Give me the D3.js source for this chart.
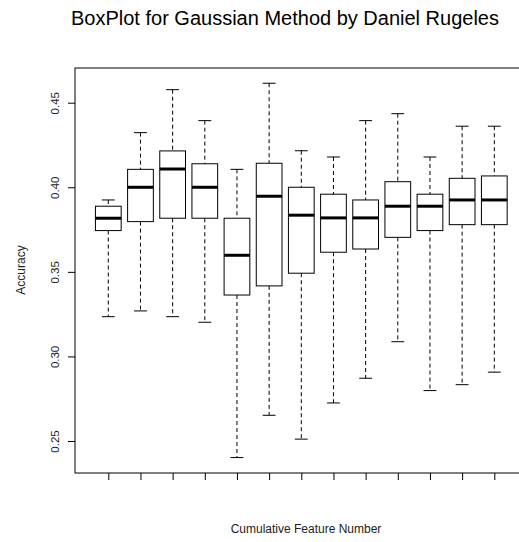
<!DOCTYPE html>
<html>
<head>
<meta charset="utf-8">
<script src="https://cdn.jsdelivr.net/npm/d3@7"></script>
<style>
  body { margin: 0; background: #fff; }
  text { font-family: "Liberation Sans", Arial, sans-serif; }
</style>
</head>
<body>
<svg id="chart"></svg>
<script>
// one entry per cumulative feature number (1..13)
const features = [1, 2, 3, 4, 5, 6, 7, 8, 9, 10, 11, 12, 13];
const whiskerLow  = [0.3235, 0.3269, 0.3235, 0.3202, 0.2402, 0.2652, 0.2511, 0.2725, 0.2871, 0.3087, 0.2798, 0.2833, 0.2907];
const q1          = [0.3744, 0.3797, 0.3817, 0.3817, 0.3363, 0.3417, 0.3492, 0.3616, 0.3635, 0.3704, 0.3744, 0.3779, 0.3779];
const medians     = [0.3817, 0.4000, 0.4108, 0.4000, 0.3598, 0.3947, 0.3835, 0.3819, 0.3819, 0.3888, 0.3888, 0.3925, 0.3925];
const q3          = [0.3888, 0.4106, 0.4215, 0.4139, 0.3817, 0.4142, 0.4000, 0.3959, 0.3925, 0.4033, 0.3959, 0.4053, 0.4067];
const whiskerHigh = [0.3925, 0.4323, 0.4577, 0.4394, 0.4106, 0.4615, 0.4216, 0.4179, 0.4394, 0.4435, 0.4179, 0.4361, 0.4361];
const yTicks = [0.25, 0.30, 0.35, 0.40, 0.45];

const width = 519, height = 542;
const plotLeft = 75, plotTop = 68, plotBottom = 473, plotRight = 530;

const svg = d3.select("#chart")
    .attr("width", width)
    .attr("height", height);

const x = d3.scaleLinear()
    .domain([1, 13])
    .range([108.3, 494.3]);

const y = d3.scaleLinear()
    .domain([0.25, 0.45])
    .range([441, 102.7]);

const boxWidth = (x(2) - x(1)) * 0.8;
const capWidth = boxWidth * 0.5;

const data = features.map((f, i) => ({
    f: f,
    lo: whiskerLow[i],
    q1: q1[i],
    med: medians[i],
    q3: q3[i],
    hi: whiskerHigh[i]
}));

// title
svg.append("text")
    .attr("x", 285)
    .attr("y", 25)
    .attr("text-anchor", "middle")
    .style("font-size", "20px")
    .style("fill", "#000")
    .text("BoxPlot for Gaussian Method by Daniel Rugeles");

const boxes = svg.selectAll(".box")
    .data(data)
    .enter().append("g")
    .attr("class", "box")
    .attr("transform", d => `translate(${x(d.f)},0)`);

// whiskers (dashed)
boxes.append("line")
    .attr("x1", 0).attr("x2", 0)
    .attr("y1", d => y(d.hi)).attr("y2", d => y(d.q3))
    .attr("stroke", "#000")
    .attr("stroke-dasharray", "4,3");

boxes.append("line")
    .attr("x1", 0).attr("x2", 0)
    .attr("y1", d => y(d.q1)).attr("y2", d => y(d.lo))
    .attr("stroke", "#000")
    .attr("stroke-dasharray", "4,3");

// staples
boxes.append("line")
    .attr("x1", -capWidth / 2).attr("x2", capWidth / 2)
    .attr("y1", d => y(d.hi)).attr("y2", d => y(d.hi))
    .attr("stroke", "#000");

boxes.append("line")
    .attr("x1", -capWidth / 2).attr("x2", capWidth / 2)
    .attr("y1", d => y(d.lo)).attr("y2", d => y(d.lo))
    .attr("stroke", "#000");

// box
boxes.append("rect")
    .attr("x", -boxWidth / 2)
    .attr("width", boxWidth)
    .attr("y", d => y(d.q3))
    .attr("height", d => y(d.q1) - y(d.q3))
    .attr("fill", "#fff")
    .attr("stroke", "#000");

// median
boxes.append("line")
    .attr("x1", -boxWidth / 2).attr("x2", boxWidth / 2)
    .attr("y1", d => y(d.med)).attr("y2", d => y(d.med))
    .attr("stroke", "#000")
    .attr("stroke-width", 3);

// y axis
const yAxis = svg.append("g")
    .attr("transform", `translate(${plotLeft},0)`)
    .call(d3.axisLeft(y).tickValues(yTicks).tickFormat(d3.format(".2f")).tickSize(7).tickSizeOuter(0));
yAxis.select(".domain").remove();
yAxis.selectAll("text")
    .attr("x", 0)
    .attr("dy", 0)
    .attr("text-anchor", "middle")
    .attr("transform", "translate(-16,0) rotate(-90)")
    .style("font-family", "'Liberation Sans', Arial, sans-serif")
    .style("font-size", "11.5px")
    .style("fill", "#222");

// x axis (ticks only, no labels)
const xAxis = svg.append("g")
    .attr("transform", `translate(0,${plotBottom})`)
    .call(d3.axisBottom(x).tickValues(features).tickFormat("").tickSize(7).tickSizeOuter(0));
xAxis.select(".domain").remove();

// frame
svg.append("rect")
    .attr("x", plotLeft)
    .attr("y", plotTop)
    .attr("width", plotRight - plotLeft)
    .attr("height", plotBottom - plotTop)
    .attr("fill", "none")
    .attr("stroke", "#000");

// axis titles
svg.append("text")
    .attr("x", 306)
    .attr("y", 533)
    .attr("text-anchor", "middle")
    .style("font-size", "12px")
    .style("fill", "#222")
    .text("Cumulative Feature Number");

svg.append("text")
    .attr("transform", "translate(25,270) rotate(-90)")
    .attr("text-anchor", "middle")
    .style("font-size", "12px")
    .style("fill", "#222")
    .text("Accuracy");
</script>
</body>
</html>
